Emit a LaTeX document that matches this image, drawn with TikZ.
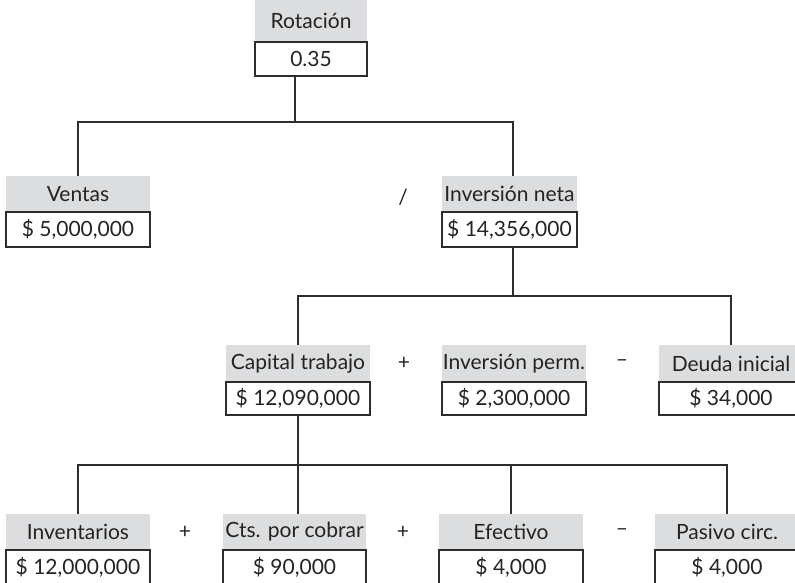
\documentclass[tikz,border=0pt]{standalone}
\usepackage{fontspec}
\setmainfont{Lato}
\definecolor{labgray}{RGB}{220,221,223}
\definecolor{linec}{RGB}{45,45,45}
\definecolor{txt}{RGB}{35,35,35}
\begin{document}
\begin{tikzpicture}[x=1pt,y=-1pt,
  txtfont/.style={font=\fontsize{21}{24}\selectfont, text=txt},
  lab/.style={txtfont, fill=labgray, inner sep=0pt, minimum height=36pt},
  val/.style={txtfont, draw=linec, line width=1.2pt, fill=white, inner sep=0pt, minimum height=34pt},
  conn/.style={draw=linec, line width=1.4pt},
  op/.style={txtfont, inner sep=0pt}]
\useasboundingbox (0,0) rectangle (795,583);
% level 1
\node[lab, minimum width=112pt, minimum height=42pt] (rotl) at (311,21) {Rotación};
\node[val, minimum width=112pt] (rotv) at (311,59) {0.35};
% level 2
\node[lab, minimum width=144pt] (venl) at (78,194) {Ventas};
\node[val, minimum width=144pt, minimum height=35pt] (venv) at (78,229.5) {\$ 5,000,000};
\node[lab, minimum width=135pt] (invl) at (509.5,194) {Inversión neta};
\node[val, minimum width=135pt, minimum height=35pt] (invv) at (509.5,229.5) {\$ 14,356,000};
\node[op] (div) at (403,197) {/};
% level 3
\node[lab, minimum width=144pt, minimum height=37pt] (capl) at (298,363.5) {Capital trabajo};
\node[val, minimum width=144pt, minimum height=33pt] (capv) at (298,398.5) {\$ 12,090,000};
\node[lab, minimum width=144pt, minimum height=37pt] (perl) at (514,363.5) {Inversión perm.};
\node[val, minimum width=144pt, minimum height=33pt] (perv) at (514,398.5) {\$ 2,300,000};
\node[lab, minimum width=144pt, minimum height=37pt] (deul) at (731,363.5) {Deuda inicial};
\node[val, minimum width=144pt, minimum height=33pt] (deuv) at (731,398.5) {\$ 34,000};
\node[op] (plusa) at (404,363) {+};
\node[op] (minusa) at (622,363) {–};
% level 4
\node[lab, minimum width=144pt] (inl) at (78,532) {Inventarios};
\node[val, minimum width=144pt] (inv4) at (78,567) {\$ 12,000,000};
\node[lab, minimum width=143pt] (ctsl) at (294.5,532) {Cts. por cobrar};
\node[val, minimum width=143pt] (ctsv) at (294.5,567) {\$ 90,000};
\node[lab, minimum width=144pt] (efl) at (511,532) {Efectivo};
\node[val, minimum width=144pt] (efv) at (511,567) {\$ 4,000};
\node[lab, minimum width=144pt] (pasl) at (727,532) {Pasivo circ.};
\node[val, minimum width=144pt] (pasv) at (727,567) {\$ 4,000};
\node[op] (plusb) at (185,532) {+};
\node[op] (plusc) at (403,532) {+};
\node[op] (minusb) at (622,532) {–};
% buses
\coordinate (bus1) at (0,122);
\coordinate (bus2) at (0,296);
\coordinate (bus3) at (0,465);
\coordinate (rotdrop) at ([xshift=-16pt]rotv.south);
\coordinate (invup) at ([xshift=3.5pt]invl.north);
\coordinate (invdown) at ([xshift=3.5pt]invv.south);
\draw[conn] (rotdrop) -- (rotdrop |- bus1);
\draw[conn] (venl.north) |- (invup |- bus1) -- (invup);
\draw[conn] (invdown) -- (invdown |- bus2);
\draw[conn] (capl.north) |- (deul.north |- bus2) -- (deul.north);
\coordinate (capdown) at (capv.south);
\draw[conn] (capdown) -- (capdown |- ctsl.north);
\draw[conn] (inl.north) |- (pasl.north |- bus3) -- (pasl.north);
\draw[conn] (efl.north) -- (efl.north |- bus3);
\end{tikzpicture}
\end{document}
